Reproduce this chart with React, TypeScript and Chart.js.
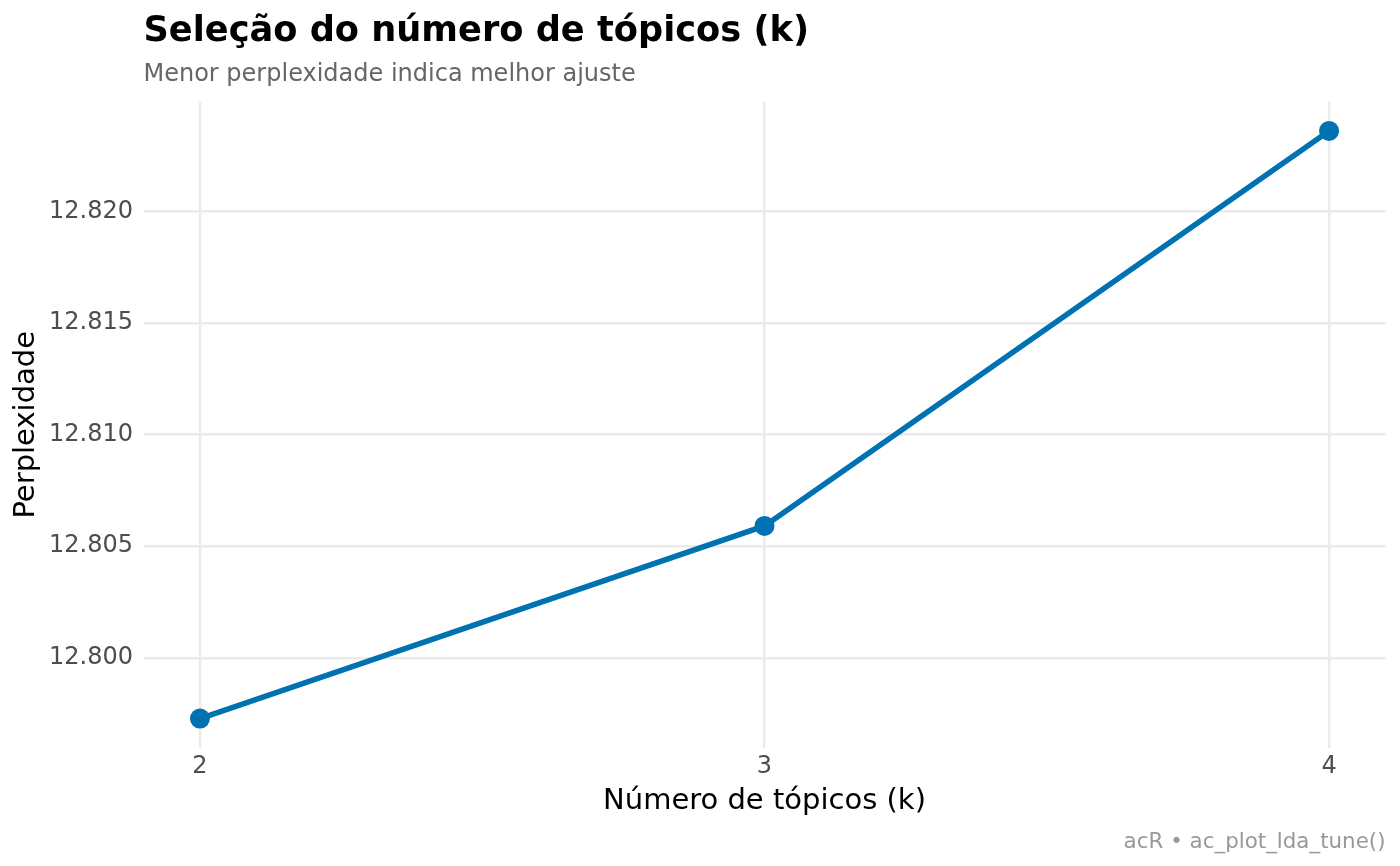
import React, { useEffect, useRef } from "react";
import { Chart, registerables } from "chart.js";

Chart.register(...registerables);

const FONT = "'DejaVu Sans', 'Noto Sans', sans-serif";

const titleText = "Seleção do número de tópicos (k)";
const subtitleText = "Menor perplexidade indica melhor ajuste";
const captionText = "acR • ac_plot_lda_tune()";
const xTitle = "Número de tópicos (k)";
const yTitle = "Perplexidade";

const kValues = [2, 3, 4];
const perplexity = [12.79727, 12.80591, 12.82362];
const xTicks = [2, 3, 4];
const yTicks = [12.8, 12.805, 12.81, 12.815, 12.82];

// ggplot-style 5% expansion of the data range
const expand = (vals: number[]) => {
  const lo = Math.min(...vals);
  const hi = Math.max(...vals);
  const pad = (hi - lo) * 0.05;
  return [lo - pad, hi + pad];
};

const textPlugin = {
  id: "ggText",
  afterDraw(chart: any) {
    const { ctx, chartArea } = chart;
    ctx.save();
    ctx.textAlign = "left";
    ctx.textBaseline = "alphabetic";
    ctx.fillStyle = "#000000";
    ctx.font = `bold 35.2px ${FONT}`;
    ctx.fillText(titleText, chartArea.left, 41);
    ctx.fillStyle = "#666666";
    ctx.font = `24px ${FONT}`;
    ctx.fillText(subtitleText, chartArea.left, 81);
    ctx.textAlign = "right";
    ctx.fillStyle = "#999999";
    ctx.font = `21.4px ${FONT}`;
    ctx.fillText(captionText, chartArea.right, 848);
    ctx.restore();
  },
};

export default function App() {
  const canvasRef = useRef<HTMLCanvasElement | null>(null);

  useEffect(() => {
    if (!canvasRef.current) return;
    const [xMin, xMax] = expand(kValues);
    const [yMin, yMax] = expand(perplexity);
    const gridColor = "#EBEBEB";
    const chart = new Chart(canvasRef.current, {
      type: "line",
      data: {
        datasets: [
          {
            data: kValues.map((k, i) => ({ x: k, y: perplexity[i] })),
            borderColor: "#0072B2",
            backgroundColor: "#0072B2",
            borderWidth: 5.5,
            pointRadius: 10,
            pointBackgroundColor: "#0072B2",
            pointBorderWidth: 0,
            pointHoverRadius: 10,
            tension: 0,
            clip: false as any,
          },
        ],
      },
      options: {
        animation: false,
        responsive: false,
        devicePixelRatio: 1,
        events: [],
        layout: { padding: { top: 101.5, right: 14.5, left: 0, bottom: 0 } },
        plugins: {
          legend: { display: false },
          tooltip: { enabled: false },
        },
        scales: {
          x: {
            type: "linear",
            min: xMin,
            max: xMax,
            afterBuildTicks: (s: any) => {
              s.ticks = xTicks.map((v) => ({ value: v }));
            },
            afterFit: (s: any) => {
              s.height = 118;
            },
            grid: { color: gridColor, lineWidth: 2.4, drawTicks: false },
            border: { display: false },
            ticks: {
              color: "#4D4D4D",
              font: { family: FONT, size: 24 },
              padding: 4.5,
              maxRotation: 0,
              autoSkip: false,
              callback: (v: any) => String(v),
            },
            title: {
              display: true,
              text: xTitle,
              color: "#000000",
              font: { family: FONT, size: 29 },
              padding: { top: 0, bottom: 47.5 },
            },
          },
          y: {
            type: "linear",
            min: yMin,
            max: yMax,
            afterBuildTicks: (s: any) => {
              s.ticks = yTicks.map((v) => ({ value: v }));
            },
            afterFit: (s: any) => {
              s.width = 143.5;
            },
            grid: { color: gridColor, lineWidth: 2.4, drawTicks: false },
            border: { display: false },
            ticks: {
              color: "#4D4D4D",
              font: { family: FONT, size: 24 },
              padding: 10.5,
              autoSkip: false,
              callback: (v: any) => Number(v).toFixed(3),
            },
            title: {
              display: true,
              text: yTitle,
              color: "#000000",
              font: { family: FONT, size: 29 },
              padding: { top: 9.5, bottom: 0 },
            },
          },
        },
      },
      plugins: [textPlugin],
    });
    return () => chart.destroy();
  }, []);

  return (
    <div
      style={{
        position: "fixed",
        left: 0,
        top: 0,
        width: 1400,
        height: 866,
        background: "#ffffff",
      }}
    >
      <canvas ref={canvasRef} width={1400} height={866} />
    </div>
  );
}
